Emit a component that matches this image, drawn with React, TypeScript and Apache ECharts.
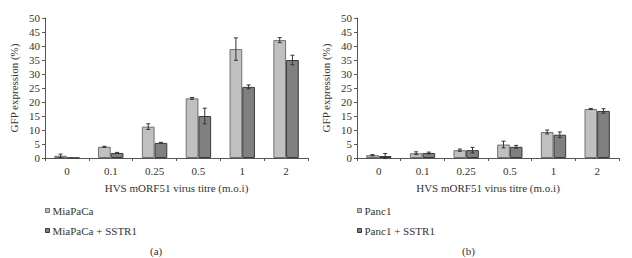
import React, { useEffect, useRef } from "react";
import * as echarts from "echarts";

const titres = ["0", "0.1", "0.25", "0.5", "1", "2"];
const yTicks = [0, 5, 10, 15, 20, 25, 30, 35, 40, 45, 50];

const miaPaCa = [0.8, 4.0, 11.2, 21.3, 38.9, 42.1];
const miaPaCaErr = [0.6, 0.2, 1.0, 0.3, 4.0, 0.9];
const miaPaCaSSTR1 = [0.1, 1.8, 5.4, 15.0, 25.4, 35.0];
const miaPaCaSSTR1Err = [0, 0.2, 0.2, 2.8, 0.7, 1.7];

const panc1 = [1.0, 1.7, 2.8, 4.8, 9.3, 17.5];
const panc1Err = [0.2, 0.5, 0.4, 1.2, 0.7, 0.2];
const panc1SSTR1 = [0.7, 1.8, 2.8, 4.0, 8.3, 16.8];
const panc1SSTR1Err = [0.9, 0.3, 1.0, 0.5, 1.0, 0.8];

const FONT = "Liberation Serif";
const LIGHT = "#c0c0c0";
const LIGHT_BORDER = "#707070";
const DARK = "#808080";
const DARK_BORDER = "#3a3a3a";
const AXIS = "#555555";
const TEXT = "#333333";

export default function App() {
  const ref = useRef<HTMLDivElement>(null);
  useEffect(() => {
    if (!ref.current) return;
    const chart = echarts.init(ref.current, null, { renderer: "svg" });

    const errSeries = (
      name: string,
      vals: number[],
      errs: number[],
      idx: number,
      offset: number
    ) => ({
      type: "custom",
      name: name + "-err",
      xAxisIndex: idx,
      yAxisIndex: idx,
      silent: true,
      z: 10,
      data: vals.map((v, i) => [i, v, errs[i]]),
      renderItem: (params: any, api: any) => {
        const cat = api.value(0);
        const val = api.value(1);
        const err = api.value(2);
        if (!err) return { type: "group", children: [] };
        const band = api.size([1, 0])[0];
        const x = api.coord([cat, val])[0] + offset * band;
        const top = api.coord([cat, val + err])[1];
        const bot = api.coord([cat, val - err])[1];
        const cap = 2;
        const st = { stroke: "#333", lineWidth: 1 };
        return {
          type: "group",
          children: [
            { type: "line", shape: { x1: x, y1: top, x2: x, y2: bot }, style: st },
            { type: "line", shape: { x1: x - cap, y1: top, x2: x + cap, y2: top }, style: st },
            { type: "line", shape: { x1: x - cap, y1: bot, x2: x + cap, y2: bot }, style: st },
          ],
        };
      },
    });

    const barSeries = (name: string, vals: number[], idx: number, light: boolean) => ({
      type: "bar",
      name,
      xAxisIndex: idx,
      yAxisIndex: idx,
      data: vals,
      barWidth: "29%",
      barGap: "0%",
      itemStyle: {
        color: light ? LIGHT : DARK,
        borderColor: light ? LIGHT_BORDER : DARK_BORDER,
        borderWidth: 1,
      },
    });

    const xAxis = (gridIndex: number) => ({
      type: "category",
      gridIndex,
      data: titres,
      name: "HVS mORF51 virus titre (m.o.i)",
      nameLocation: "middle",
      nameGap: 24,
      nameTextStyle: { fontFamily: FONT, fontSize: 11, color: TEXT },
      axisLine: { lineStyle: { color: AXIS } },
      axisTick: { show: true, length: 3, lineStyle: { color: AXIS } },
      axisLabel: { fontFamily: FONT, fontSize: 11, color: TEXT, margin: 7 },
      splitLine: { show: false },
    });

    const yAxis = (gridIndex: number) => ({
      type: "value",
      gridIndex,
      min: yTicks[0],
      max: yTicks[yTicks.length - 1],
      interval: yTicks[1] - yTicks[0],
      name: "GFP expression (%)",
      nameLocation: "middle",
      nameGap: 26,
      nameRotate: 90,
      nameTextStyle: { fontFamily: FONT, fontSize: 11, color: TEXT },
      axisLine: { show: true, lineStyle: { color: AXIS } },
      axisTick: { show: true, length: 3, lineStyle: { color: AXIS } },
      axisLabel: { fontFamily: FONT, fontSize: 11, color: TEXT, margin: 5 },
      splitLine: { show: false },
    });

    const legend = (left: number, names: string[]) => ({
      orient: "vertical",
      left,
      top: 205,
      padding: 0,
      itemWidth: 4,
      itemHeight: 4,
      itemGap: 9,
      icon: "rect",
      itemStyle: { borderWidth: 1 },
      data: names,
      textStyle: { fontFamily: FONT, fontSize: 11, color: TEXT, padding: [0, 0, 0, -2] },
    });

    chart.setOption({
      animation: false,
      backgroundColor: "#ffffff",
      grid: [
        { left: 45, top: 18, width: 263, height: 140 },
        { left: 357, top: 18, width: 262, height: 140 },
      ],
      xAxis: [xAxis(0), xAxis(1)],
      yAxis: [yAxis(0), yAxis(1)],
      legend: [
        legend(45, ["MiaPaCa", "MiaPaCa + SSTR1"]),
        legend(357, ["Panc1", "Panc1 + SSTR1"]),
      ],
      series: [
        barSeries("MiaPaCa", miaPaCa, 0, true),
        barSeries("MiaPaCa + SSTR1", miaPaCaSSTR1, 0, false),
        barSeries("Panc1", panc1, 1, true),
        barSeries("Panc1 + SSTR1", panc1SSTR1, 1, false),
        errSeries("MiaPaCa", miaPaCa, miaPaCaErr, 0, -0.145),
        errSeries("MiaPaCa + SSTR1", miaPaCaSSTR1, miaPaCaSSTR1Err, 0, 0.145),
        errSeries("Panc1", panc1, panc1Err, 1, -0.145),
        errSeries("Panc1 + SSTR1", panc1SSTR1, panc1SSTR1Err, 1, 0.145),
      ],
      graphic: [
        {
          type: "text",
          left: 150,
          top: 245,
          style: { text: "(a)", fontFamily: FONT, fontSize: 11, fill: TEXT },
        },
        {
          type: "text",
          left: 462,
          top: 245,
          style: { text: "(b)", fontFamily: FONT, fontSize: 11, fill: TEXT },
        },
      ],
    } as any);

    return () => chart.dispose();
  }, []);

  return <div ref={ref} style={{ width: 632, height: 258, position: "absolute", left: 0, top: 0 }} />;
}
